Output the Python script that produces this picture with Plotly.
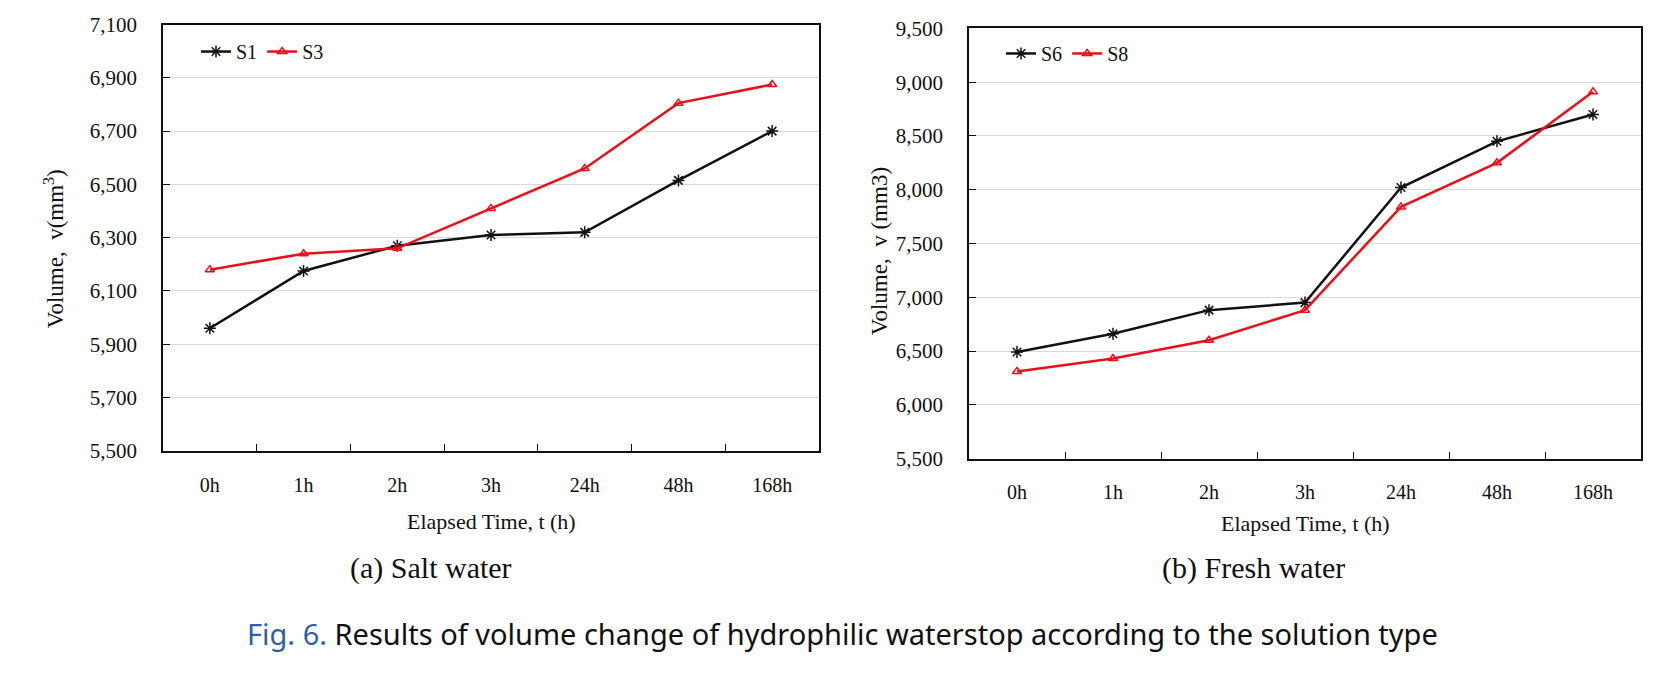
import plotly.graph_objects as go

categories = ["0h", "1h", "2h", "3h", "24h", "48h", "168h"]
s1 = [5960, 6175, 6270, 6310, 6320, 6515, 6700]
s3 = [6180, 6240, 6260, 6410, 6560, 6805, 6875]
s6 = [6490, 6660, 6880, 6950, 8020, 8450, 8700]
s8 = [6310, 6430, 6600, 6880, 7840, 8250, 8910]

left_ticks = [5500, 5700, 5900, 6100, 6300, 6500, 6700, 6900, 7100]
right_ticks = [5500, 6000, 6500, 7000, 7500, 8000, 8500, 9000, 9500]

W, H = 1677, 675
SERIF = "Liberation Serif"
BLACK = "#111111"
RED = "#e8101a"

def px(x):
    return x / W

def py(y):
    return 1 - y / H

fig = go.Figure()

def add_series(name, vals, color, symbol, xa, ya, legend, msize):
    fig.add_trace(go.Scatter(
        x=categories, y=vals, name=name, mode="lines+markers",
        line=dict(color=color, width=2.5),
        marker=dict(symbol=symbol, size=msize, color=color, line=dict(color=color, width=1.5)),
        xaxis=xa, yaxis=ya, legend=legend,
    ))

add_series("S1", s1, BLACK, "asterisk-open", "x", "y", "legend", 10)
add_series("S3", s3, RED, "triangle-up-open", "x", "y", "legend", 8)
add_series("S6", s6, BLACK, "asterisk-open", "x2", "y2", "legend2", 10)
add_series("S8", s8, RED, "triangle-up-open", "x2", "y2", "legend2", 8)

xcommon = dict(
    type="category", showgrid=False, showline=True, mirror=True,
    linecolor=BLACK, linewidth=1.5, ticks="inside", ticklen=7, tickwidth=1.2,
    tickcolor=BLACK, tickson="boundaries", tickfont=dict(family=SERIF, size=20, color=BLACK),
    ticklabelstandoff=15, zeroline=False, range=[-0.5, 6.5],
)
ycommon = dict(
    showgrid=True, gridcolor="#d9d9d9", gridwidth=1, showline=True, mirror=True,
    linecolor=BLACK, linewidth=1.5, ticks="inside", ticklen=7, tickwidth=1.2,
    tickcolor=BLACK, tickfont=dict(family=SERIF, size=21, color=BLACK),
    tickformat=",d", ticklabelstandoff=20, zeroline=False,
)

legend_common = dict(xanchor="left", yanchor="middle", orientation="h",
                     bgcolor="rgba(0,0,0,0)",
                     font=dict(family=SERIF, size=20, color=BLACK),
                     itemwidth=30, tracegroupgap=0, itemsizing="trace")

fig.update_layout(
    width=W, height=H,
    margin=dict(l=0, r=0, t=0, b=0),
    paper_bgcolor="white", plot_bgcolor="white",
    xaxis=dict(domain=[px(163), px(819)], anchor="y", **xcommon),
    yaxis=dict(domain=[py(455), py(13)], anchor="x", range=[5500, 7100],
               tickvals=left_ticks, **ycommon),
    xaxis2=dict(domain=[px(969), px(1641)], anchor="y2", **xcommon),
    yaxis2=dict(domain=[py(463), py(17)], anchor="x2", range=[5500, 9500],
                tickvals=right_ticks, **ycommon),
    legend=dict(x=px(196), y=py(41), **legend_common),
    legend2=dict(x=px(1001), y=py(43), **legend_common),
    showlegend=True,
)

annotations = [
    dict(text="Volume,  v(mm<sup>3</sup>)", x=px(54), y=py(246), textangle=-90,
         font=dict(family=SERIF, size=23, color=BLACK)),
    dict(text="Volume,  v (mm3)", x=px(879), y=py(248), textangle=-90,
         font=dict(family=SERIF, size=23, color=BLACK)),
    dict(text="Elapsed Time, t (h)", x=px(491), y=py(528),
         font=dict(family=SERIF, size=22, color=BLACK)),
    dict(text="Elapsed Time, t (h)", x=px(1305), y=py(530),
         font=dict(family=SERIF, size=22, color=BLACK)),
    dict(text="(a) Salt water", x=px(431), y=py(576),
         font=dict(family=SERIF, size=30, color=BLACK)),
    dict(text="(b) Fresh water", x=px(1253), y=py(576),
         font=dict(family=SERIF, size=30, color=BLACK)),
    dict(text="<span style='color:#2f5fa7'>Fig. 6.</span> Results of volume change of hydrophilic waterstop according to the solution type",
         x=px(842), y=py(644), font=dict(family="Noto Sans", size=29, color="#111111")),
]
for a in annotations:
    a.update(xref="paper", yref="paper", showarrow=False, xanchor="center", yanchor="middle")
fig.update_layout(annotations=annotations)

# remove the default page margin so the figure fills the window exactly
fig.write_html(
    "out.html",
    config={"displayModeBar": False},
    post_script="document.body.style.margin='0';document.body.style.overflow='hidden';"
                "document.documentElement.style.overflow='hidden';",
)
